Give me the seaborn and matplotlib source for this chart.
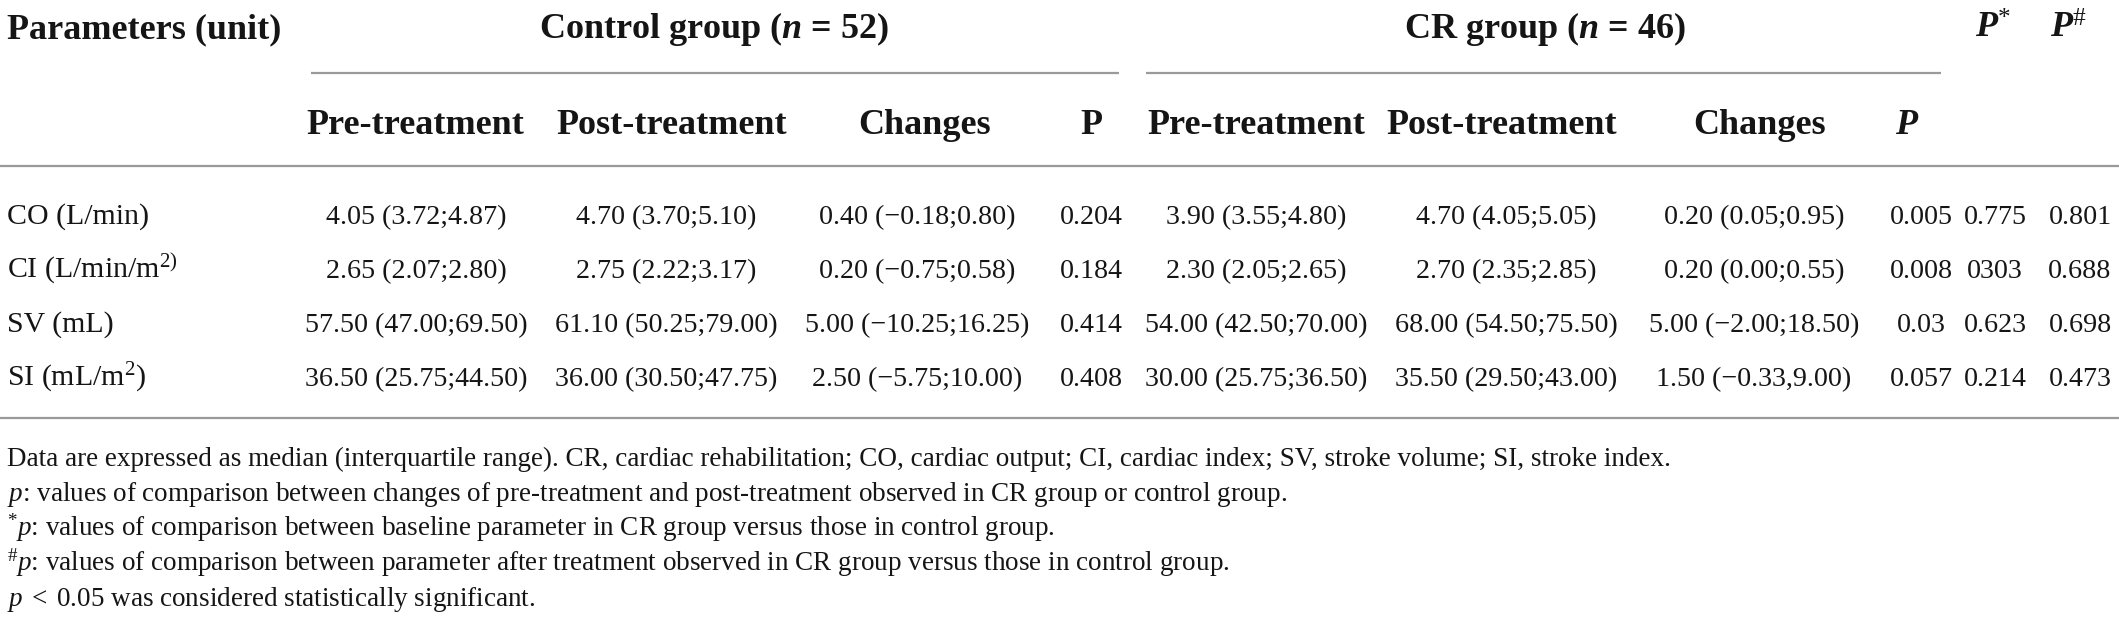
import numpy as np
import pandas as pd
import seaborn as sns
import matplotlib.pyplot as plt

sns.set_theme(style="white")
plt.rcParams['font.family'] = ['Liberation Serif', 'DejaVu Serif']
plt.rcParams['mathtext.fontset'] = 'custom'
plt.rcParams['mathtext.rm'] = 'Liberation Serif'
plt.rcParams['mathtext.it'] = 'Liberation Serif:italic'
plt.rcParams['mathtext.bf'] = 'Liberation Serif:bold'
plt.rcParams['mathtext.bfit'] = 'Liberation Serif:italic:bold'

# table content
params = ["CO (L/min)", r"CI (L/min/m$^{2)}$", "SV (mL)", r"SI (mL/m$^{2}$)"]
ctrl_pre = ["4.05 (3.72;4.87)", "2.65 (2.07;2.80)", "57.50 (47.00;69.50)", "36.50 (25.75;44.50)"]
ctrl_post = ["4.70 (3.70;5.10)", "2.75 (2.22;3.17)", "61.10 (50.25;79.00)", "36.00 (30.50;47.75)"]
ctrl_chg = ["0.40 (\u22120.18;0.80)", "0.20 (\u22120.75;0.58)", "5.00 (\u221210.25;16.25)", "2.50 (\u22125.75;10.00)"]
ctrl_p = ["0.204", "0.184", "0.414", "0.408"]
cr_pre = ["3.90 (3.55;4.80)", "2.30 (2.05;2.65)", "54.00 (42.50;70.00)", "30.00 (25.75;36.50)"]
cr_post = ["4.70 (4.05;5.05)", "2.70 (2.35;2.85)", "68.00 (54.50;75.50)", "35.50 (29.50;43.00)"]
cr_chg = ["0.20 (0.05;0.95)", "0.20 (0.00;0.55)", "5.00 (\u22122.00;18.50)", "1.50 (\u22120.33,9.00)"]
cr_p = ["0.005", "0.008", "0.03", "0.057"]
p_star = ["0.775", "0303", "0.623", "0.214"]
p_hash = ["0.801", "0.688", "0.698", "0.473"]

group_titles = [r"Control group ($\mathbfit{n}$ = 52)", r"CR group ($\mathbfit{n}$ = 46)"]
sub_headers = ["Pre-treatment", "Post-treatment", "Changes", r"$\mathbf{P}$",
               "Pre-treatment", "Post-treatment", "Changes", r"$\mathbfit{P}$"]

footnotes = [
    "Data are expressed as median (interquartile range). CR, cardiac rehabilitation; CO, cardiac output; "
    "CI, cardiac index; SV, stroke volume; SI, stroke index.",
    r"$p$: values of comparison between changes of pre-treatment and post-treatment observed in CR group or control group.",
    r"$^{*}p$: values of comparison between baseline parameter in CR group versus those in control group.",
    r"$^{\#}p$: values of comparison between parameter after treatment observed in CR group versus those in control group.",
    r"$p\;<\;$0.05 was considered statistically significant.",
]

table = pd.DataFrame({
    "ctrl_pre": ctrl_pre, "ctrl_post": ctrl_post, "ctrl_chg": ctrl_chg, "ctrl_p": ctrl_p,
    "cr_pre": cr_pre, "cr_post": cr_post, "cr_chg": cr_chg, "cr_p": cr_p,
    "p_star": p_star, "p_hash": p_hash,
}, index=params)

# layout (pixel space)
W, H = 2119, 623
col_x = [416, 666, 917, 1091, 1256, 1506, 1754, 1921, 1995, 2080]
sub_x = [415, 672, 925, 1091, 1256, 1502, 1760, 1907]
row_y = [215, 269, 323, 377]
txt = '#151515'
rule = '#9a9a9a'
hdr_fs, cell_fs, lab_fs, note_fs = 26, 20.2, 21.5, 19.5

fig = plt.figure(figsize=(W / 100, H / 100), dpi=100)
ax = fig.add_axes([0, 0, 1, 1])
ax.set_xlim(0, W)
ax.set_ylim(H, 0)
ax.axis('off')

# header
ax.text(7, 26 + 12, "Parameters (unit)", fontsize=hdr_fs, fontweight='bold',
        ha='left', va='baseline', color=txt)
ax.text(714, 26 + 12, group_titles[0], fontsize=hdr_fs, fontweight='bold',
        ha='center', va='baseline', color=txt)
ax.text(1545, 26 + 12, group_titles[1], fontsize=hdr_fs, fontweight='bold',
        ha='center', va='baseline', color=txt)
ax.text(1993, 26 + 12, r"$\mathbfit{P}^{*}$", fontsize=hdr_fs,
        ha='center', va='baseline', color=txt)
ax.text(2068, 26 + 12, r"$\mathbfit{P}^{\#}$", fontsize=hdr_fs,
        ha='center', va='baseline', color=txt)
ax.hlines(73, 311, 1119, color=rule, lw=1.6)
ax.hlines(73, 1146, 1941, color=rule, lw=1.6)
for x, s in zip(sub_x, sub_headers):
    ax.text(x, 122 + 12, s, fontsize=hdr_fs, fontweight='bold',
            ha='center', va='baseline', color=txt)
ax.hlines(166, 0, W, color=rule, lw=1.6)

# body
for y, (name, row) in zip(row_y, table.iterrows()):
    ax.text(7, y + 9, name, fontsize=lab_fs, ha='left', va='baseline', color=txt)
    for x, v in zip(col_x, row.values):
        ax.text(x, y + 9, v, fontsize=cell_fs, ha='center', va='baseline', color=txt)
ax.hlines(418, 0, W, color=rule, lw=1.6)

# notes
for i, note in enumerate(footnotes):
    ax.text(7, 458 + 35 * i + 8, note, fontsize=note_fs, ha='left', va='baseline', color=txt)

fig.savefig('out.png', dpi=100, facecolor='white')
